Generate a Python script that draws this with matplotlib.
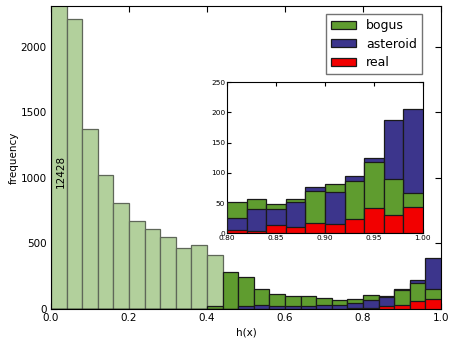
import matplotlib
matplotlib.use('Agg')
import matplotlib.pyplot as plt
import numpy as np

# ---- data ----
main_edges = np.linspace(0.0, 1.0, 26)          # 25 bins of width 0.04
light_counts = [12428, 2208, 1375, 1024, 811, 671, 607, 546, 462, 490, 414]  # 0.00 - 0.44
bogus_main = [0]*10 + [22, 285, 241, 150, 112, 99, 97, 82, 71, 74, 106, 103, 148, 202, 153]
asteroid_main = [0]*10 + [2, 3, 20, 28, 23, 23, 25, 28, 30, 43, 66, 90, 150, 218, 391]
real_main = [0]*10 + [0, 0, 0, 0, 0, 0, 0, 0, 0, 5, 8, 21, 28, 64, 74]

inset_edges = np.linspace(0.80, 1.00, 11)       # 10 bins of width 0.02
bogus_inset = [51, 56, 48, 56, 70, 81, 86, 117, 89, 66]
asteroid_inset = [26, 40, 40, 51, 76, 68, 95, 124, 188, 205]
real_inset = [5, 3, 14, 10, 17, 15, 24, 41, 31, 44]

labels = ['bogus', 'asteroid', 'real']
first_bin_label = '12428'

C_BOGUS = '#5f9c2f'
C_AST = '#3c358c'
C_REAL = '#f20000'
C_LIGHT = '#b2d09c'
EDGE = '#1a1a1a'

fs = 7.5


def overlap_bars(ax, edges, series, colors, lw=0.9, lab=True):
    left = edges[:-1]
    width = np.diff(edges)
    conts = []
    for vals, c, l in zip(series, colors, labels):
        bc = ax.bar(left, vals, width=width, align='edge', color=c,
                    edgecolor=EDGE, linewidth=lw, label=l if lab else None)
        conts.append(bc)
    h = np.array(series, dtype=float)
    for j in range(h.shape[1]):
        order = np.argsort(-h[:, j], kind='stable')
        for rank, i in enumerate(order):
            conts[i].patches[j].set_zorder(3 + rank * 0.1)
    return conts


fig = plt.figure(figsize=(4.57, 3.44), dpi=100)
ax = fig.add_axes([0.1116, 0.1017, 0.8534, 0.8809])

nlight = len(light_counts)
ax.bar(main_edges[:nlight], light_counts, width=np.diff(main_edges)[:nlight],
       align='edge', color=C_LIGHT, edgecolor='#5f6759', linewidth=0.9, zorder=2)
overlap_bars(ax, main_edges, [bogus_main, asteroid_main, real_main],
             [C_BOGUS, C_AST, C_REAL])

ax.text(0.024, 1050, first_bin_label, rotation=90, ha='center', va='center',
        fontsize=fs, zorder=10)

ax.set_xlim(0, 1)
ax.set_ylim(0, 2310)
ax.set_xticks([0.0, 0.2, 0.4, 0.6, 0.8, 1.0])
ax.set_yticks([0, 500, 1000, 1500, 2000])
ax.tick_params(direction='in', top=True, right=True, labelsize=fs, length=4, pad=3)
ax.set_xlabel('h(x)', fontsize=fs, labelpad=3)
ax.set_ylabel('frequency', fontsize=fs, labelpad=1.5)

leg = ax.legend(loc='upper right', bbox_to_anchor=(0.951, 0.9736), borderaxespad=0,
                fontsize=9, fancybox=False, framealpha=1, edgecolor='0.45',
                handlelength=2.0, handleheight=0.6, labelspacing=0.45)
leg.get_frame().set_linewidth(1.0)
leg.set_zorder(20)

axi = fig.add_axes([0.4974, 0.3218, 0.4276, 0.4398])
overlap_bars(axi, inset_edges, [bogus_inset, asteroid_inset, real_inset],
             [C_BOGUS, C_AST, C_REAL], lab=False)
axi.set_xlim(0.80, 1.00)
axi.set_ylim(0, 250)
axi.set_xticks([0.80, 0.85, 0.90, 0.95, 1.00])
axi.set_xticklabels(['0.80', '0.85', '0.90', '0.95', '1.00'])
axi.set_yticks([0, 50, 100, 150, 200, 250])
axi.tick_params(direction='in', top=True, right=True, labelsize=5.3, length=3, pad=1.5)

fig.savefig('out.png', dpi=100)
